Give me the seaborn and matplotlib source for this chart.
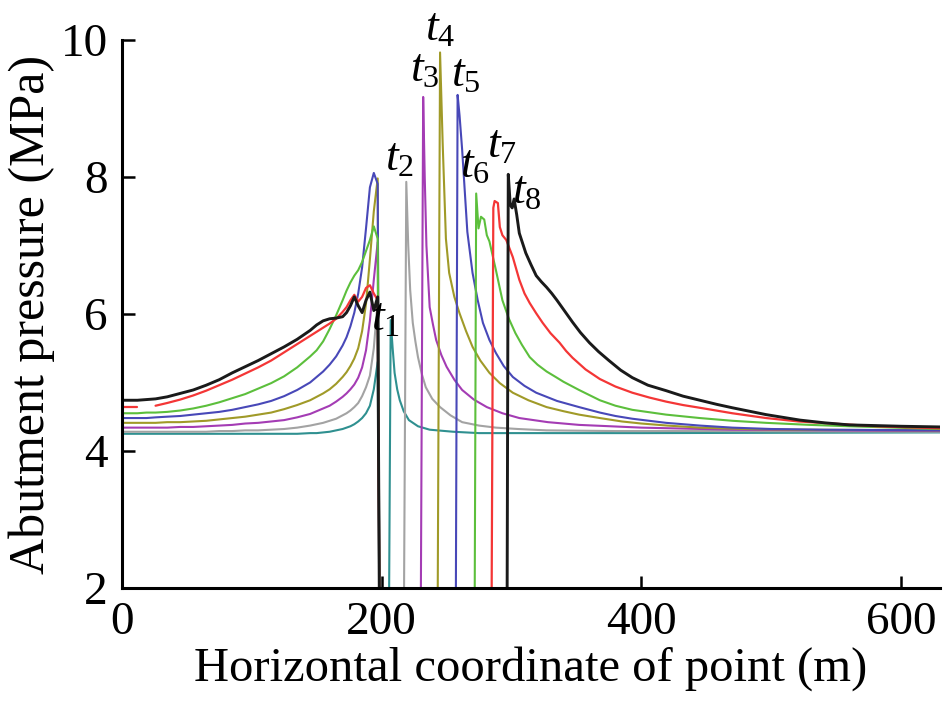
import numpy as np
import pandas as pd
import matplotlib
matplotlib.use("Agg")
import matplotlib.pyplot as plt
import seaborn as sns

# ---- data -----------------------------------------------------------------
# Coal-side branch (left of the goaf): shared x stations (m)
LEFT_X = [0, 12, 19, 26, 35, 45, 55, 65, 75, 85, 95, 105, 115, 125, 135, 145, 150,
          155, 160, 165, 170, 173, 176, 179, 182, 185, 188, 191, 194, 197]

T1_LEFT = [4.25, 4.25, 4.25, 4.25, 4.25, 4.25, 4.25, 4.25, 4.25, 4.25, 4.25, 4.25,
           4.25, 4.25, 4.25, 4.26, 4.26, 4.27, 4.28, 4.30, 4.32, 4.34, 4.36, 4.39,
           4.43, 4.48, 4.55, 4.66, 4.90, 5.30]
T2_LEFT = [4.28, 4.28, 4.28, 4.28, 4.28, 4.28, 4.28, 4.28, 4.29, 4.29, 4.30, 4.30,
           4.31, 4.32, 4.34, 4.37, 4.39, 4.41, 4.44, 4.47, 4.52, 4.55, 4.59, 4.64,
           4.70, 4.80, 4.93, 5.10, 5.50, 6.20]
T3_LEFT = [4.34, 4.34, 4.34, 4.34, 4.34, 4.35, 4.35, 4.36, 4.37, 4.38, 4.40, 4.41,
           4.43, 4.45, 4.49, 4.54, 4.58, 4.62, 4.66, 4.72, 4.79, 4.84, 4.90, 4.97,
           5.07, 5.22, 5.47, 5.90, 6.50, 7.05]
T4_LEFT = [4.41, 4.41, 4.41, 4.41, 4.42, 4.42, 4.43, 4.44, 4.46, 4.48, 4.50, 4.53,
           4.56, 4.61, 4.67, 4.74, 4.79, 4.84, 4.90, 4.98, 5.08, 5.15, 5.24, 5.35,
           5.50, 5.75, 6.15, 6.80, 7.50, 7.98]
T5_LEFT = [4.48, 4.48, 4.48, 4.49, 4.50, 4.51, 4.53, 4.55, 4.57, 4.60, 4.64, 4.68,
           4.73, 4.80, 4.89, 5.00, 5.08, 5.16, 5.26, 5.38, 5.54, 5.66, 5.82, 6.02,
           6.30, 6.68, 7.25, 7.85, 8.06, 7.90]
T6_LEFT = [4.55, 4.55, 4.56, 4.56, 4.57, 4.59, 4.62, 4.66, 4.71, 4.77, 4.83, 4.91,
           4.99, 5.09, 5.22, 5.38, 5.47, 5.60, 5.78, 5.98, 6.20, 6.34, 6.46, 6.56,
           6.64, 6.76, 6.92, 7.08, 7.28, 7.10]
T7_LEFT = [4.64, 4.64, np.nan, 4.66, 4.70, 4.75, 4.81, 4.88, 4.96, 5.04, 5.13, 5.22,
           5.32, 5.44, 5.56, 5.68, 5.74, 5.80, 5.86, 5.93, 6.03, 6.10, 6.20, 6.28,
           6.18, 6.25, 6.38, 6.42, 6.30, 6.20]
T8_LEFT = [4.74, 4.74, 4.75, 4.76, 4.79, 4.84, 4.89, 4.96, 5.04, 5.14, 5.23, 5.32,
           5.42, 5.52, 5.63, 5.76, 5.84, 5.90, 5.93, 5.94, 5.96, 6.02, 6.12, 6.25,
           6.12, 6.02, 6.20, 6.32, 6.05, 6.25]

# Goaf edge on the coal side, and a pressure below the axis floor inside the goaf
GOAF_EDGE_X = 198.5
GOAF_Y = 1.0

# Working-face side branch of each time step (starts in the goaf at the face)
T1_RX = [205.5, 207, 208.5, 210, 212, 214, 217, 221, 228, 237, 255, 275, 400, 630]
T1_RY = [1.0, 5.91, 5.50, 5.14, 4.90, 4.74, 4.58, 4.45, 4.36, 4.31, 4.28, 4.26, 4.26,
         4.27]

T2_RX = [217, 219, 220.5, 222, 224, 226, 228, 231, 234, 239, 245, 253, 262, 275, 288,
         305, 327, 380, 450, 630]
T2_RY = [1.0, 7.93, 7.00, 6.35, 5.87, 5.60, 5.37, 5.12, 4.93, 4.76, 4.64, 4.52, 4.42,
         4.37, 4.34, 4.32, 4.30, 4.29, 4.29, 4.28]

T3_RX = [230, 232, 233.2, 234.5, 237, 239.5, 242, 246, 250, 256, 262, 271, 281, 293,
         306, 328, 352, 400, 470, 630]
T3_RY = [1.0, 9.17, 8.00, 7.00, 6.10, 5.85, 5.62, 5.40, 5.23, 5.04, 4.89, 4.75, 4.64,
         4.55, 4.48, 4.42, 4.38, 4.34, 4.31, 4.29]

T4_RX = [243, 245, 247, 249.5, 252, 256, 260, 265, 270, 276, 283, 291, 301, 313, 327,
         340, 352, 368, 385, 400, 420, 445, 480, 520, 630]
T4_RY = [1.0, 9.82, 8.50, 7.10, 6.60, 6.25, 6.01, 5.75, 5.52, 5.32, 5.14, 4.99, 4.85,
         4.74, 4.64, 4.58, 4.53, 4.48, 4.43, 4.40, 4.37, 4.34, 4.32, 4.31, 4.30]

T5_RX = [257, 258.5, 260, 262, 264, 266, 270, 274, 278, 283, 288, 294, 301, 310, 319,
         335, 352, 368, 380, 393, 406, 419, 445, 470, 500, 540, 630]
T5_RY = [1.0, 9.20, 8.90, 8.40, 7.80, 7.20, 6.60, 6.20, 5.87, 5.62, 5.43, 5.24, 5.08,
         4.95, 4.85, 4.73, 4.64, 4.56, 4.51, 4.47, 4.44, 4.41, 4.37, 4.34, 4.32, 4.31,
         4.30]

T6_RX = [271.5, 272.8, 274.6, 276.5, 279, 281, 283, 288, 293, 298, 303, 308, 314, 320,
         327, 334, 340, 352, 368, 380, 393, 419, 445, 470, 496, 530, 560, 630]
T6_RY = [1.0, 7.76, 7.25, 7.42, 7.38, 7.15, 7.06, 6.64, 6.20, 5.93, 5.72, 5.55, 5.37,
         5.26, 5.16, 5.08, 5.01, 4.89, 4.74, 4.66, 4.60, 4.53, 4.48, 4.44, 4.41, 4.38,
         4.36, 4.32]

T7_RX = [284.5, 286, 287, 289.5, 291, 293, 296, 301, 306, 310, 314, 319, 324, 330, 337,
         342, 347, 357, 368, 380, 393, 406, 419, 432, 445, 470, 496, 521, 547, 580, 630]
T7_RY = [1.0, 7.55, 7.65, 7.62, 7.27, 7.15, 7.08, 6.83, 6.50, 6.30, 6.16, 6.01, 5.87,
         5.72, 5.58, 5.46, 5.36, 5.19, 5.05, 4.94, 4.85, 4.78, 4.72, 4.67, 4.63, 4.55,
         4.48, 4.43, 4.40, 4.36, 4.33]

T8_RX = [296.5, 297.5, 299, 300.5, 302, 304, 306, 311, 315, 319, 323, 327, 331, 335,
         341, 347, 353, 360, 367, 375, 384, 393, 405, 419, 432, 445, 458, 470, 483,
         496, 509, 522, 541, 560, 580, 600, 630]
T8_RY = [1.0, 8.04, 7.60, 7.55, 7.68, 7.45, 7.18, 6.89, 6.72, 6.56, 6.47, 6.39, 6.30,
         6.20, 6.04, 5.88, 5.73, 5.58, 5.45, 5.32, 5.18, 5.07, 4.96, 4.88, 4.80, 4.74,
         4.68, 4.63, 4.58, 4.53, 4.49, 4.45, 4.41, 4.38, 4.37, 4.36, 4.35]

STEP_NAMES = ["t1", "t2", "t3", "t4", "t5", "t6", "t7", "t8"]
LABEL_TEXT = [r"$t_{1}$", r"$t_{2}$", r"$t_{3}$", r"$t_{4}$",
              r"$t_{5}$", r"$t_{6}$", r"$t_{7}$", r"$t_{8}$"]
# label anchor (x, y) in data units
LABEL_X = [203, 214, 233, 245, 265, 272, 293, 312]
LABEL_Y = [5.92, 8.25, 9.56, 10.15, 9.49, 8.16, 8.44, 7.78]

X_TICKS = [0, 200, 400, 600]
Y_TICKS = [2, 4, 6, 8, 10]

# ---- style ----------------------------------------------------------------
COLORS = ["#2f9090", "#a3a3a3", "#a43cb4", "#a09a28", "#4848b8",
          "#5cbf3c", "#f43636", "#1a1a1a"]
WIDTHS = [1.5, 1.5, 1.5, 1.5, 1.5, 1.5, 1.6, 2.1]

sns.set_theme(style="ticks")
plt.rcParams["font.family"] = ["Liberation Serif", "DejaVu Serif"]
plt.rcParams["mathtext.fontset"] = "custom"
plt.rcParams["mathtext.it"] = "Liberation Serif:italic"
plt.rcParams["mathtext.rm"] = "Liberation Serif"

fig = plt.figure(figsize=(9.44, 7.04), dpi=100)
ax = fig.add_axes([0.129, 0.165, 0.867, 0.778])

left_sets = [T1_LEFT, T2_LEFT, T3_LEFT, T4_LEFT, T5_LEFT, T6_LEFT, T7_LEFT, T8_LEFT]
right_sets = [(T1_RX, T1_RY), (T2_RX, T2_RY), (T3_RX, T3_RY), (T4_RX, T4_RY),
              (T5_RX, T5_RY), (T6_RX, T6_RY), (T7_RX, T7_RY), (T8_RX, T8_RY)]


def draw_path(xs, ys, color, lw):
    """Draw a polyline, breaking it wherever a value is missing."""
    frame = pd.DataFrame({"x": xs, "y": ys})
    valid = frame["y"].notna()
    run_id = (~valid).cumsum()
    for _, part in frame[valid].groupby(run_id[valid]):
        sns.lineplot(data=part, x="x", y="y", ax=ax, color=color, lw=lw,
                     sort=False, estimator=None, legend=False)


for name, left, (rx, ry), c, w in zip(STEP_NAMES, left_sets, right_sets, COLORS, WIDTHS):
    # coal-side branch falling into the goaf
    draw_path(LEFT_X + [GOAF_EDGE_X], left + [GOAF_Y], c, w)
    # face-side branch
    draw_path(rx, ry, c, w)

for txt, lx, ly in zip(LABEL_TEXT, LABEL_X, LABEL_Y):
    ax.text(lx, ly, txt, fontsize=33, ha="center", va="center", color="black",
            clip_on=False)

ax.set_xlim(0, 630)
ax.set_ylim(2, 10)
ax.set_xticks(X_TICKS)
ax.set_yticks(Y_TICKS)
ax.set_xticklabels([str(v) for v in X_TICKS])
ax.set_yticklabels([str(v) for v in Y_TICKS])
ax.set_xlabel("Horizontal coordinate of point (m)", fontsize=35, labelpad=1,
              color="black")
ax.set_ylabel("Abutment pressure (MPa)", fontsize=36, labelpad=4, color="black")
ax.tick_params(axis="both", direction="in", length=9, width=1.8,
               labelsize=34, color="black", labelcolor="black")
ax.tick_params(axis="x", pad=10)
ax.tick_params(axis="y", pad=10)
sns.despine(ax=ax, top=True, right=True)
for side in ("left", "bottom"):
    ax.spines[side].set_linewidth(2.2)
    ax.spines[side].set_color("black")
ax.grid(False)
ax.set_facecolor("white")

fig.savefig("out.png", dpi=100, facecolor="white")
